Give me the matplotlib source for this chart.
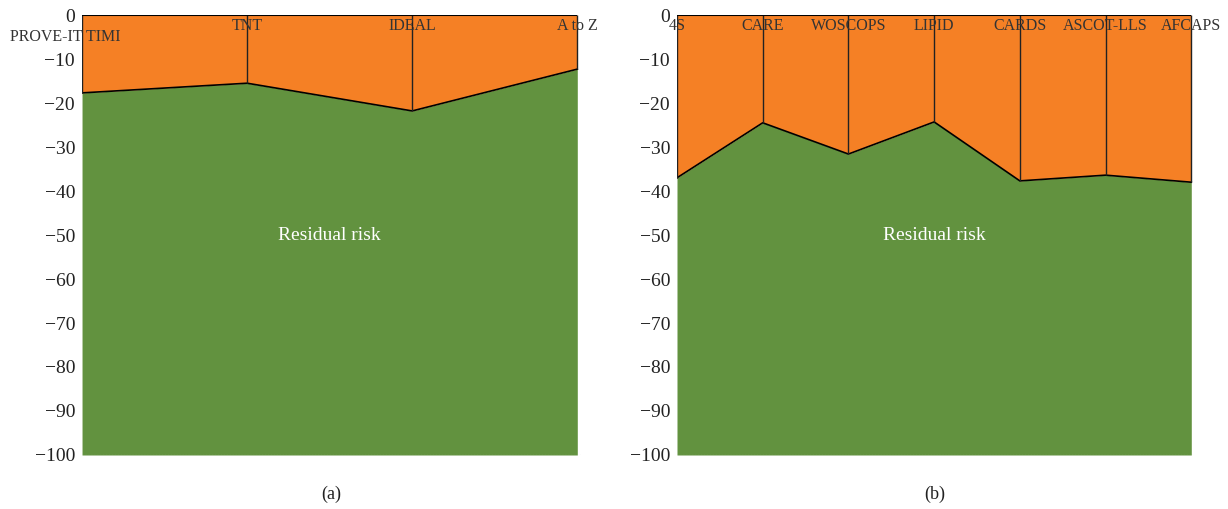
import matplotlib
matplotlib.use("Agg")
import matplotlib.pyplot as plt

plt.rcParams["font.family"] = ["Liberation Serif", "DejaVu Serif"]

# panel (a)
trials_a = ["PROVE-IT TIMI", "TNT", "IDEAL", "A to Z"]
risk_red_a = [-17.7, -15.5, -21.8, -12.3]

# panel (b)
trials_b = ["4S", "CARE", "WOSCOPS", "LIPID", "CARDS", "ASCOT-LLS", "AFCAPS"]
risk_red_b = [-37.0, -24.5, -31.6, -24.3, -37.7, -36.4, -38.0]

ORANGE = "#F58025"
GREEN = "#62923F"


def draw_panel(ax, names, values, tag):
    x = list(range(len(names)))
    ax.fill_between(x, -100, values, color=GREEN, lw=0)
    ax.fill_between(x, values, 0, color=ORANGE, lw=0)
    ax.plot(x, values, color="black", lw=1.2)
    ax.vlines(x, values, 0, color="#222222", lw=1.0)
    ax.hlines(0, x[0], x[-1], color="black", lw=1.5)
    ax.axhline(-100, color="#bbbbbb", lw=0.8, ls=":")

    for i, name in enumerate(names):
        if i == 0 and len(names) == 4:
            ax.text(i - 0.1, -5, name, ha="center", va="center",
                    fontsize=11.5, color="#333333")
        else:
            ax.text(i, -2.5, name, ha="center", va="center",
                    fontsize=11.5, color="#333333")

    ax.text((x[-1]) / 2, -50, "Residual risk", ha="center", va="center",
            fontsize=14, color="white")

    ax.set_xlim(0, x[-1] + 0.02)
    ax.set_ylim(-100, 0)
    ax.set_yticks(range(-100, 1, 10))
    ax.tick_params(axis="y", length=0, pad=5, labelsize=14, labelcolor="#222222")
    ax.set_xticks([])
    for s in ax.spines.values():
        s.set_visible(False)
    ax.text(0.5, -0.09, tag, transform=ax.transAxes, ha="center", va="center",
            fontsize=13, color="#222222")


fig = plt.figure(figsize=(12.28, 5.09), dpi=100)
ax1 = fig.add_axes([0.0668, 0.1061, 0.4060, 0.8644])
ax2 = fig.add_axes([0.5513, 0.1061, 0.4202, 0.8644])
draw_panel(ax1, trials_a, risk_red_a, "(a)")
draw_panel(ax2, trials_b, risk_red_b, "(b)")

fig.savefig("out.png", dpi=100)
